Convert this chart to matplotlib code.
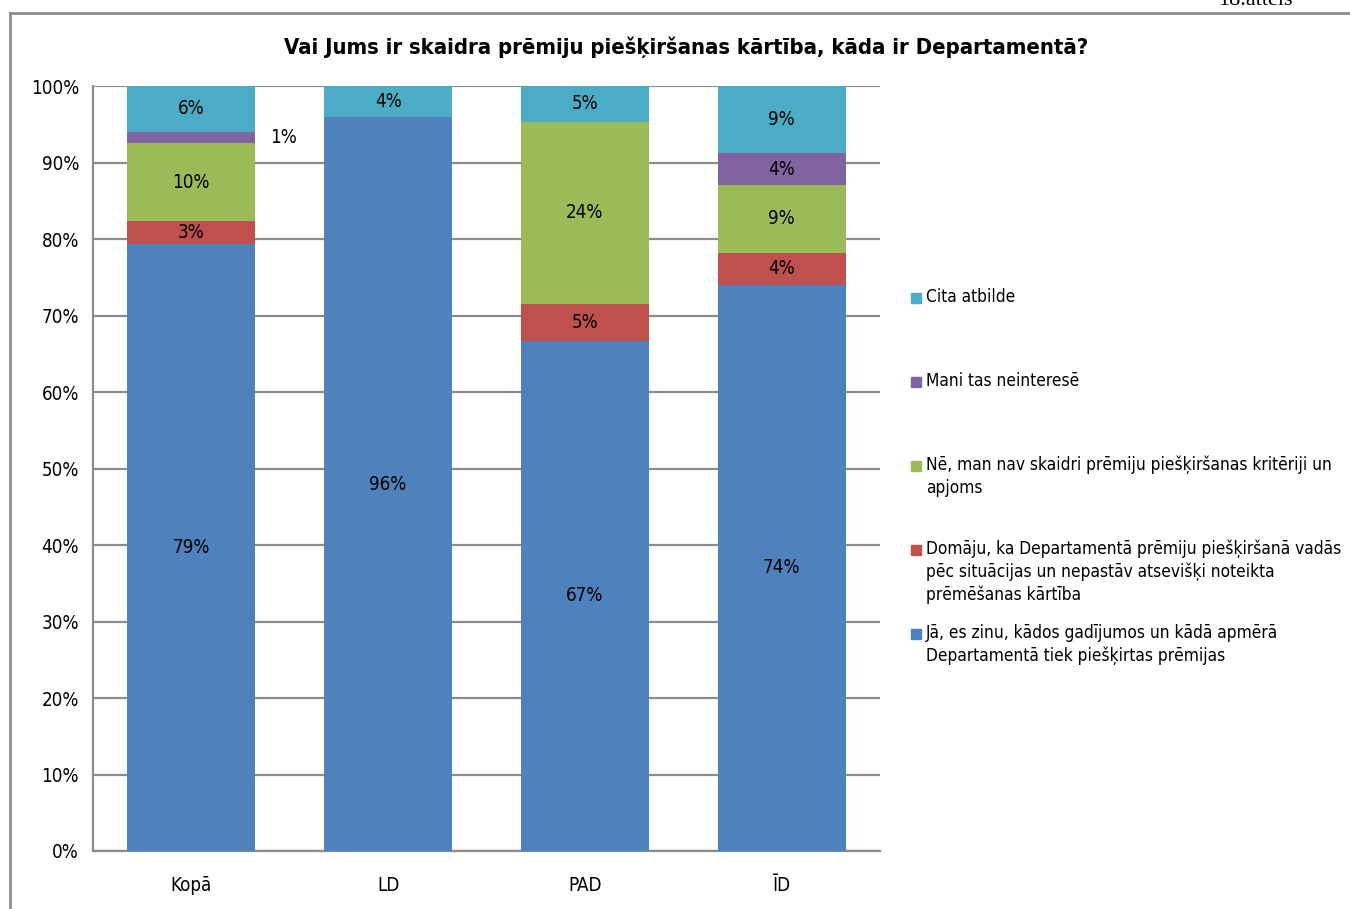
import matplotlib.pyplot as plt
from matplotlib.lines import Line2D
from matplotlib.patches import Rectangle
import numpy as np

plt.rcParams['font.family'] = ['DejaVu Sans']
plt.rcParams['font.stretch'] = 'condensed'

categories = ['Kopā', 'LD', 'PAD', 'ĪD']
series_names = [
    'Jā, es zinu, kādos gadījumos un kādā apmērā\nDepartamentā tiek piešķirtas prēmijas',
    'Domāju, ka Departamentā prēmiju piešķiršanā vadās\npēc situācijas un nepastāv atsevišķi noteikta\nprēmēšanas kārtība',
    'Nē, man nav skaidri prēmiju piešķiršanas kritēriji un\napjoms',
    'Mani tas neinteresē',
    'Cita atbilde',
]
ja = [79.4, 95.9, 66.7, 74.0]
domaju = [2.9, 0.0, 4.8, 4.2]
ne = [10.3, 0.0, 23.8, 8.9]
mani = [1.4, 0.0, 0.0, 4.1]
cita = [6.0, 4.1, 4.7, 8.8]
colors = ['#4F81BD', '#C0504D', '#9BBB59', '#8064A2', '#4BACC6']

data = [ja, domaju, ne, mani, cita]

fig = plt.figure(figsize=(13.5, 9.09), dpi=100)
ax = fig.add_axes([93/1350, 1-851/909, 787/1350, 765/909])

x = np.arange(len(categories))
bottom = np.zeros(len(categories))
for vals, col in zip(data, colors):
    vals = np.array(vals)
    ax.bar(x, vals, 0.65, bottom=bottom, color=col, zorder=3)
    for i, v in enumerate(vals):
        if v <= 0:
            continue
        if v < 2:
            # small slice label placed beside the bar
            ax.text(x[i] + 0.47, bottom[i] + v/2, f'{round(v):.0f}%', ha='center',
                    va='center', fontsize=13.5, zorder=4)
        else:
            ax.text(x[i], bottom[i] + v/2, f'{round(v):.0f}%', ha='center', va='center',
                    fontsize=13.5, zorder=4)
    bottom += vals

ax.set_xlim(-0.5, 3.5)
ax.set_ylim(0, 100)
ax.set_yticks(np.arange(0, 101, 10))
ax.set_yticklabels([f'{t}%' for t in range(0, 101, 10)], fontsize=13.5)
ax.set_xticks(x)
ax.set_xticklabels(categories, fontsize=13.5)
ax.tick_params(axis='x', length=0, pad=18)
ax.tick_params(axis='y', length=0, pad=10)
ax.grid(axis='y', color='#8c8c8c', linewidth=1.6, zorder=0)
for s in ['top', 'right']:
    ax.spines[s].set_visible(False)
for s in ['left', 'bottom']:
    ax.spines[s].set_color('#8c8c8c')
    ax.spines[s].set_linewidth(1.6)

fig.text(686/1350, 1-47/909, 'Vai Jums ir skaidra prēmiju piešķiršanas kārtība, kāda ir Departamentā?',
         ha='center', va='center', fontsize=15.8, fontweight='bold')

# legend drawn by hand so the marker sits on the first line of each label
leg_y = [298, 382, 466, 550, 634]
for name, col, yy in zip(reversed(series_names), reversed(colors), leg_y):
    fig.patches.append(Rectangle((911/1350, 1-(yy+5)/909), 10/1350, 10/909,
                                 transform=fig.transFigure, color=col))
    fig.text(926/1350, 1-(yy-10)/909, name, ha='left', va='top', fontsize=12.4,
             linespacing=1.3)

# frame around the chart
fig.add_artist(Line2D([10/1350, 10/1350], [0, 1-13/909], transform=fig.transFigure,
                      color='#8c8c8c', linewidth=2))
fig.add_artist(Line2D([10/1350, 1], [1-13/909, 1-13/909], transform=fig.transFigure,
                      color='#8c8c8c', linewidth=2))
fig.text(1293/1350, 1-5/909, '18.attēls', ha='right', va='baseline', fontsize=16,
         family='Liberation Serif')

fig.savefig('out.png', dpi=100)
